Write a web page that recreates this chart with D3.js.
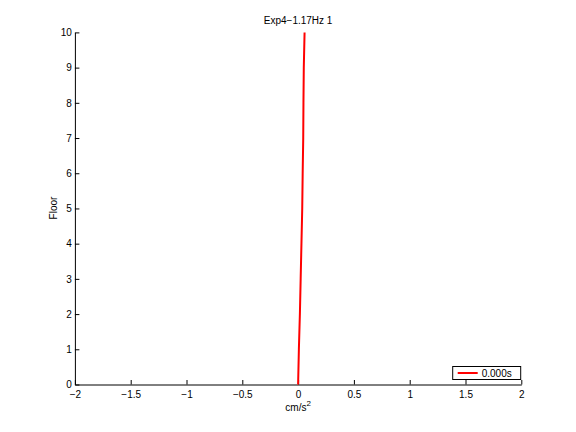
<!DOCTYPE html>
<html>
<head>
<meta charset="utf-8">
<script src="https://cdn.jsdelivr.net/npm/d3@7"></script>
<style>
  html, body { margin: 0; padding: 0; background: #fff; }
  svg { display: block; }
  text { font-family: "Liberation Sans", "DejaVu Sans", sans-serif; font-size: 10px; fill: #000; }
</style>
</head>
<body>
<svg id="chart" width="576" height="432"></svg>
<script>
// Data
const floors = [0, 1, 2, 3, 4, 5, 6, 7, 8, 9, 10];
const accel  = [0.000, 0.007, 0.016, 0.023, 0.030, 0.037, 0.041, 0.046, 0.048, 0.051, 0.058];
const xTicks = [-2, -1.5, -1, -0.5, 0, 0.5, 1, 1.5, 2];
const yTicks = [0, 1, 2, 3, 4, 5, 6, 7, 8, 9, 10];
const seriesName = "0.000s";
const titleText = "Exp4\u22121.17Hz 1";

const W = 576, H = 432;
const m = { left: 74.9, right: 521.3, top: 32.4, bottom: 384.5 };
const svg = d3.select("#chart");

const x = d3.scaleLinear().domain([-2, 2]).range([m.left, m.right]);
const y = d3.scaleLinear().domain([0, 10]).range([m.bottom, m.top]);

const fmt = d => (d < 0 ? "\u2212" : "") + String(Math.abs(d));

// Bottom axis (ticks inward)
const xAxis = d3.axisBottom(x).tickValues(xTicks).tickSizeInner(-4.5).tickSizeOuter(0).tickPadding(10).tickFormat(fmt);
const gx = svg.append("g").attr("transform", `translate(0,${m.bottom})`).call(xAxis);
gx.select(".domain").attr("stroke", "#000").attr("stroke-width", 1);
gx.selectAll(".tick line").attr("stroke", "#000");
gx.selectAll(".tick text").attr("font-size", 10).attr("font-family", "Liberation Sans, DejaVu Sans, sans-serif").attr("fill", "#000").attr("dy", "0.71em").attr("y", 6);

// Left axis (ticks inward)
const yAxis = d3.axisLeft(y).tickValues(yTicks).tickSizeInner(-4.5).tickSizeOuter(0).tickPadding(8).tickFormat(fmt);
const gy = svg.append("g").attr("transform", `translate(${m.left},0)`).call(yAxis);
gy.select(".domain").attr("stroke", "#000").attr("stroke-width", 1);
gy.selectAll(".tick line").attr("stroke", "#000");
gy.selectAll(".tick text").attr("font-size", 10).attr("font-family", "Liberation Sans, DejaVu Sans, sans-serif").attr("fill", "#000").attr("x", -3);

// Series line
const pts = floors.map((f, i) => [accel[i], f]);
svg.append("path")
  .datum(pts)
  .attr("fill", "none")
  .attr("stroke", "#ff0000")
  .attr("stroke-width", 2)
  .attr("d", d3.line().x(d => x(d[0])).y(d => y(d[1])));

// Title
svg.append("text").attr("x", (m.left + m.right) / 2).attr("y", 24)
  .attr("text-anchor", "middle").text(titleText);

// Y label
svg.append("text").attr("transform", `translate(57,208) rotate(-90)`)
  .attr("text-anchor", "middle").text("Floor");

// X label with superscript
const xl = svg.append("text").attr("x", (m.left + m.right) / 2).attr("y", 411).attr("text-anchor", "middle");
xl.append("tspan").text("cm/s");
xl.append("tspan").attr("dy", -5).attr("font-size", 8).text("2");

// Legend
const lg = svg.append("g");
const lx0 = 452.7, ly0 = 366.5, lw = 68, lh = 13;
lg.append("rect").attr("x", lx0).attr("y", ly0).attr("width", lw).attr("height", lh)
  .attr("fill", "#fff").attr("stroke", "#000").attr("stroke-width", 1);
lg.append("line").attr("x1", lx0 + 5).attr("x2", lx0 + 25).attr("y1", ly0 + lh / 2).attr("y2", ly0 + lh / 2)
  .attr("stroke", "#ff0000").attr("stroke-width", 2);
lg.append("text").attr("x", lx0 + 29).attr("y", ly0 + lh / 2 + 3.5).text(seriesName);
</script>
</body>
</html>
